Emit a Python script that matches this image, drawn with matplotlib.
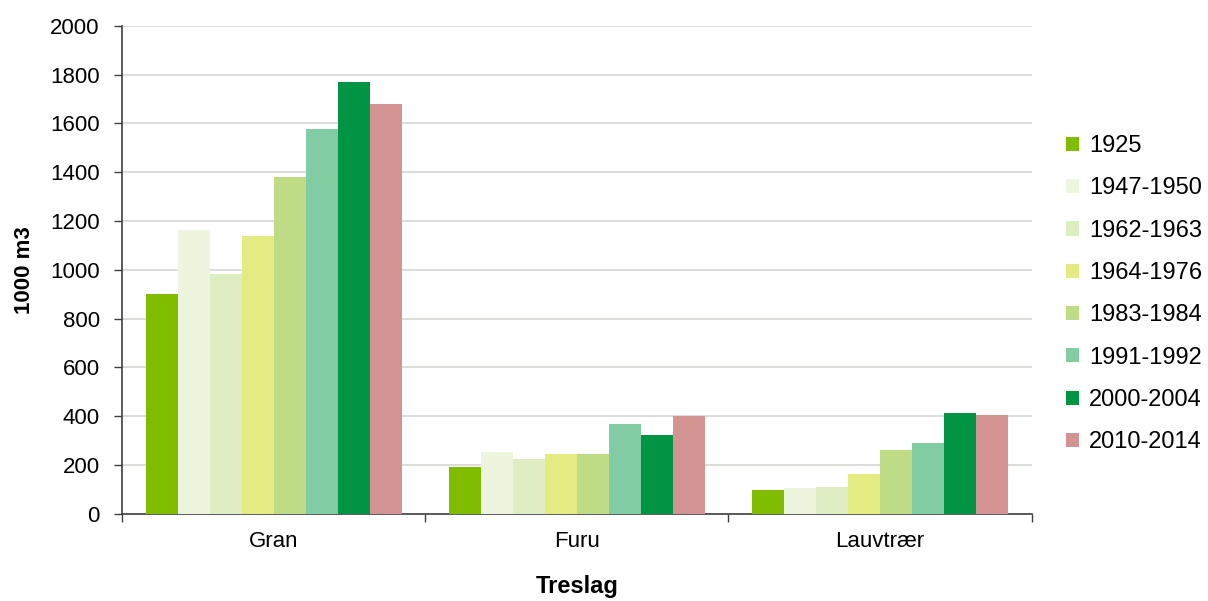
import matplotlib
matplotlib.use("Agg")
import matplotlib.pyplot as plt
import numpy as np

plt.rcParams['font.family'] = ['Liberation Sans', 'DejaVu Sans']

categories = ["Gran", "Furu", "Lauvtrær"]
periods = ["1925", "1947-1950", "1962-1963", "1964-1976", "1983-1984",
           "1991-1992", "2000-2004", "2010-2014"]
v1925 = [900, 190, 97]
v1947 = [1165, 255, 106]
v1962 = [985, 225, 112]
v1964 = [1140, 246, 165]
v1983 = [1380, 246, 261]
v1991 = [1578, 370, 291]
v2000 = [1768, 325, 415]
v2010 = [1679, 403, 404]
series = [v1925, v1947, v1962, v1964, v1983, v1991, v2000, v2010]
colors = ["#80BC00", "#EEF5DF", "#DFEDC2", "#E4EB82", "#BEDC86",
          "#82CCA4", "#009444", "#D29393"]

fig = plt.figure(figsize=(12.08, 6.01), dpi=100)
ax = fig.add_axes([0.101, 0.145, 0.753, 0.812])

x = np.arange(len(categories))
w = 0.1055
n = len(series)
for i, (vals, c, lab) in enumerate(zip(series, colors, periods)):
    ax.bar(x + (i - (n - 1) / 2) * w, vals, width=w, color=c, label=lab,
           edgecolor='none', zorder=3)

ax.set_xlim(-0.5, 2.5)
ax.set_ylim(0, 2000)
ax.set_yticks(np.arange(0, 2001, 200))
ax.yaxis.grid(True, color='#D9D9D4', linewidth=1.3, zorder=0)
ax.set_axisbelow(True)

ax.set_xticks(x)
ax.set_xticklabels(categories)
ax.set_xticks([-0.5, 0.5, 1.5, 2.5], minor=True)
ax.tick_params(axis='x', which='major', length=0, labelsize=16, pad=12)
ax.tick_params(axis='x', which='minor', length=6, width=1, color='#404040', direction='out')
ax.tick_params(axis='y', length=6, width=1, color='#404040', labelsize=16,
               direction='out', pad=10)

for s in ['top', 'right']:
    ax.spines[s].set_visible(False)
for s in ['left', 'bottom']:
    ax.spines[s].set_color('#404040')
    ax.spines[s].set_linewidth(1.2)

ax.set_ylabel("1000 m3", fontsize=16, fontweight='bold', labelpad=11)
ax.set_xlabel("Treslag", fontsize=17, fontweight='bold', labelpad=17)

leg = ax.legend(loc='center left', bbox_to_anchor=(1.0245, 0.45), frameon=False,
                fontsize=17, handlelength=0.55, handleheight=0.55,
                labelspacing=0.86, handletextpad=0.45, borderpad=0)

fig.savefig("out.png", dpi=100)
